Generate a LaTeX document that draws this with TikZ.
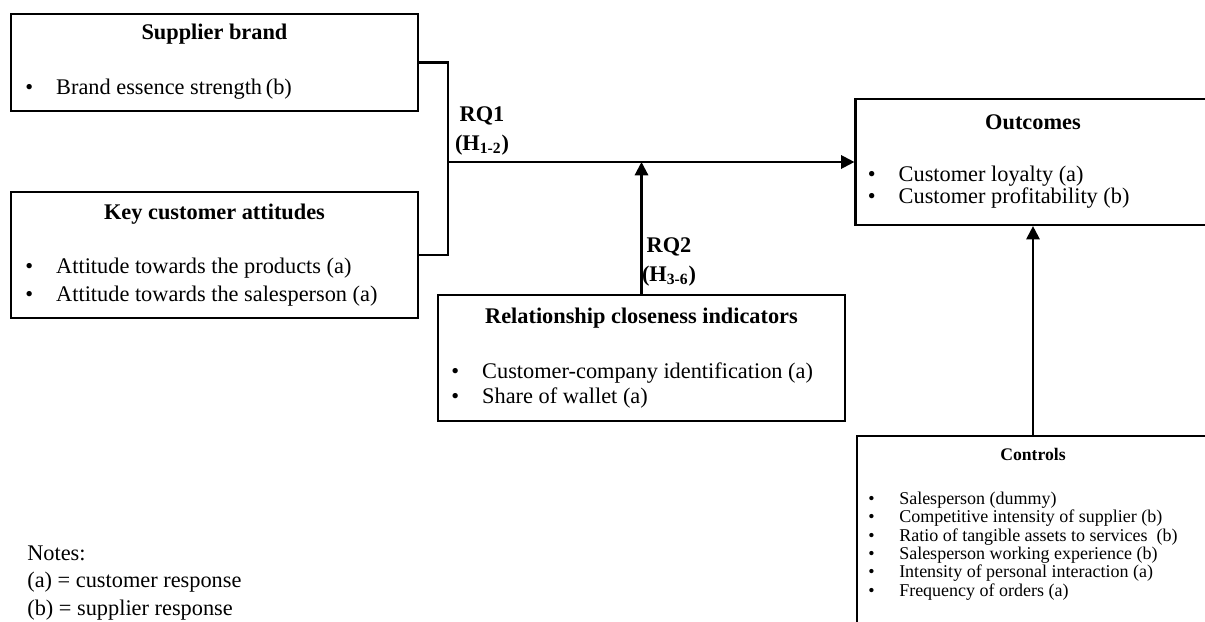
\documentclass[tikz,border=0pt]{standalone}
\usepackage{fontspec}
\setmainfont{Liberation Serif}
\usetikzlibrary{arrows.meta,calc,positioning}

\def\upx{0.6pt}
\newcommand{\itm}[1]{\makebox[18.6pt][l]{\textbullet}#1}

\tikzset{
  box/.style={draw, line width=1.3pt, rectangle, inner sep=0pt},
  boxtitle/.style={font=\fontsize{13.4}{16}\selectfont\bfseries, inner sep=0pt},
  blist/.style={font=\fontsize{13.4}{16.5}\selectfont, align=left, inner sep=0pt, anchor=west},
  link/.style={line width=1.3pt},
  arr/.style={line width=1.3pt, -{Triangle[length=8pt, width=8pt]}},
  rqlabel/.style={font=\fontsize{13.4}{17}\selectfont\bfseries, align=center, inner sep=0pt}
}

\begin{document}
\begin{tikzpicture}[x=\upx, y=-\upx]
  % Fixed bounding box
  \useasboundingbox (0,0) rectangle (1205,622);
  \clip (0,0) rectangle (1205,622);

  % Boxes
  \node[box, minimum width=407*\upx, minimum height=97*\upx] (sb) at (214.5,62.5) {};
  \node[box, minimum width=407*\upx, minimum height=126*\upx] (kc) at (214.5,255) {};
  \node[box, minimum width=407*\upx, minimum height=126*\upx] (rc) at (641.5,358) {};
  \node[box, minimum width=355*\upx, minimum height=126*\upx] (oc) at (1033,162) {};
  \node[box, minimum width=352*\upx, minimum height=200*\upx] (ct) at (1033,536) {};

  % Titles
  \node[boxtitle] (sbt) at ($(sb.north)+(0,21)$) {Supplier brand};
  \node[boxtitle] (kct) at ($(kc.north)+(0,23)$) {Key customer attitudes};
  \node[boxtitle] (rct) at ($(rc.north)+(0,24)$) {Relationship closeness indicators};
  \node[boxtitle] (oct) at ($(oc.north)+(0,24)$) {Outcomes};
  \node[boxtitle, font=\fontsize{10.6}{12}\selectfont\bfseries] (ctt) at ($(ct.north)+(0,20)$) {Controls};

  % Bullet lists
  \node[blist] (sbl) at ($(sb.west)+(15,26.5)$) {\itm{Brand essence strength\,(b)}};
  \node[blist] (kcl) at ($(kc.west)+(15,27)$) {\itm{Attitude towards the products (a)}\\
    \itm{Attitude towards the salesperson (a)}};
  \node[blist, font=\fontsize{13.4}{15}\selectfont] (rcl) at ($(rc.west)+(14,27.5)$) {\itm{Customer-company identification (a)}\\
    \itm{Share of wallet (a)}};
  \node[blist, font=\fontsize{13.4}{12}\selectfont] (ocl) at ($(oc.west)+(13,25)$) {\itm{Customer loyalty (a)}\\
    \itm{Customer profitability (b)}};
  \node[blist, font=\fontsize{10.8}{11}\selectfont] (ctl) at ($(ct.west)+(12,10)$) {\itm{Salesperson (dummy)}\\
    \itm{Competitive intensity of supplier (b)}\\
    \itm{Ratio of tangible assets to services~ (b)}\\
    \itm{Salesperson working experience (b)}\\
    \itm{Intensity of personal interaction (a)}\\
    \itm{Frequency of orders (a)}};

  % Connectors
  \coordinate (jn) at (448,162);
  \draw[link] (sb.east) -| (jn) |- (kc.east);
  \draw[arr] (jn) -- (oc.west);
  \draw[arr] (rc.north) -- (rc.north |- jn);
  \draw[arr] (ct.north) -- (oc.south);

  % Labels
  \node[rqlabel] (rq1) at (482,131) {RQ1\\(H\textsubscript{1-2})};
  \node[rqlabel] (rq2) at (669,262) {RQ2\\(H\textsubscript{3-6})};

  % Notes
  \node[blist] (notes) at (27,583) {Notes:\\(a) = customer response\\(b) = supplier response};
\end{tikzpicture}
\end{document}
